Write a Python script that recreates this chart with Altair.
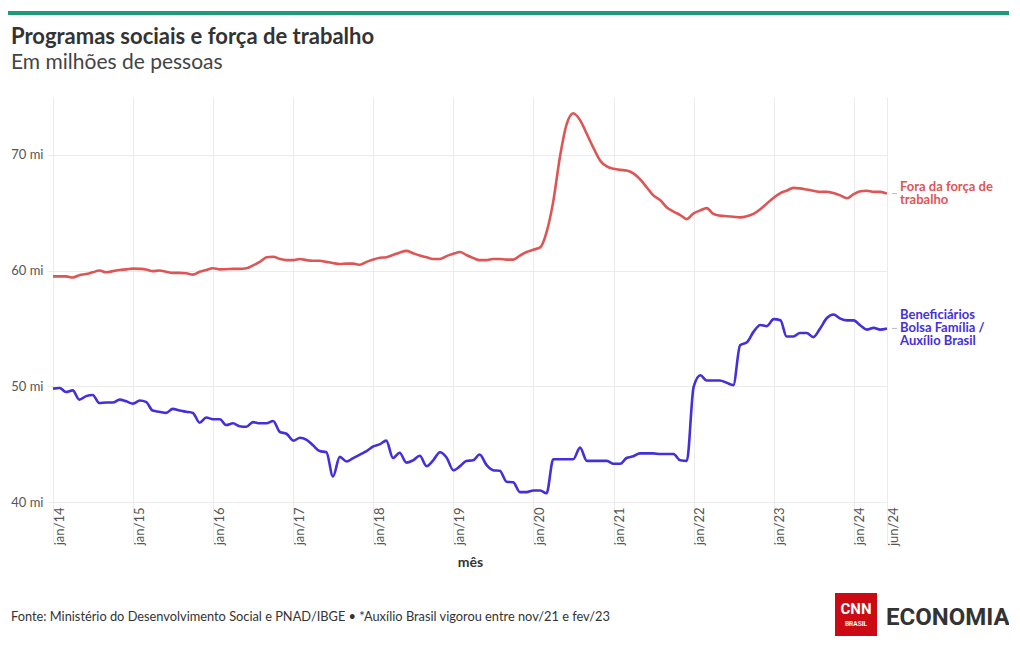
import altair as alt
import pandas as pd

# ---------------- data ----------------
months = pd.date_range("2014-01-01", "2024-06-01", freq="MS").strftime("%Y-%m-%d").tolist()

fora_forca = [
    59.5, 59.5, 59.5, 59.4, 59.6, 59.7, 59.85, 60.0, 59.85, 59.95, 60.05, 60.1,
    60.17, 60.15, 60.1, 59.95, 60.0, 59.9, 59.8, 59.8, 59.77, 59.65, 59.9, 60.05,
    60.2, 60.1, 60.12, 60.15, 60.15, 60.2, 60.45, 60.75, 61.15, 61.2, 61.0, 60.9,
    60.9, 61.0, 60.9, 60.85, 60.85, 60.75, 60.65, 60.57, 60.6, 60.6, 60.5, 60.75,
    60.95, 61.1, 61.15, 61.35, 61.55, 61.7, 61.5, 61.3, 61.15, 61.0, 61.0, 61.25,
    61.45, 61.6, 61.35, 61.1, 60.9, 60.9, 61.0, 61.0, 60.95, 60.95, 61.3, 61.6,
    61.8, 62.0, 63.3, 66.0, 69.8, 72.65, 73.6, 73.0, 71.8, 70.6, 69.5, 69.0,
    68.8, 68.7, 68.65, 68.4, 67.9, 67.2, 66.5, 66.1, 65.45, 65.1, 64.8, 64.45,
    64.95, 65.2, 65.4, 64.9, 64.75, 64.7, 64.65, 64.6, 64.7, 64.9, 65.3, 65.8,
    66.3, 66.7, 66.9, 67.15, 67.1, 67.0, 66.9, 66.8, 66.8, 66.7, 66.5, 66.25,
    66.6, 66.85, 66.9, 66.8, 66.8, 66.65,
]

beneficiarios = [
    49.8, 49.85, 49.5, 49.65, 48.85, 49.15, 49.25, 48.55, 48.6, 48.6, 48.85, 48.7,
    48.5, 48.77, 48.65, 47.9, 47.8, 47.7, 48.05, 47.9, 47.8, 47.7, 46.85, 47.3,
    47.15, 47.15, 46.65, 46.8, 46.55, 46.5, 46.9, 46.8, 46.8, 47.0, 46.05, 45.9,
    45.3, 45.55, 45.4, 44.9, 44.4, 44.3, 42.2, 43.9, 43.5, 43.8, 44.1, 44.4,
    44.8, 45.0, 45.3, 43.8, 44.25, 43.4, 43.6, 44.0, 43.1, 43.6, 44.3, 43.85,
    42.75, 43.1, 43.55, 43.6, 44.1, 43.2, 42.75, 42.7, 41.75, 41.7, 40.85, 40.85,
    41.0, 41.0, 40.75, 43.7, 43.7, 43.7, 43.7, 44.7, 43.55, 43.55, 43.55, 43.55,
    43.3, 43.3, 43.8, 43.95, 44.2, 44.2, 44.2, 44.15, 44.15, 44.15, 43.6, 43.55,
    49.95, 50.95, 50.5, 50.5, 50.5, 50.3, 50.1, 53.55, 53.8, 54.7, 55.3, 55.2,
    55.8, 55.7, 54.3, 54.3, 54.6, 54.6, 54.25, 55.0, 55.9, 56.2, 55.85, 55.7,
    55.7, 55.25, 54.9, 55.05, 54.9, 55.0,
]

series_names = ["Fora da força de trabalho", "Beneficiários Bolsa Família / Auxílio Brasil"]
series_labels = ["Fora da força de\ntrabalho", "Beneficiários\nBolsa Família /\nAuxílio Brasil"]
series_colors = ["#dd5656", "#4430d8"]

y_ticks = [40, 50, 60, 70]
tick_years = list(range(2014, 2025))
month_abbr = ["jan", "fev", "mar", "abr", "mai", "jun", "jul", "ago", "set", "out", "nov", "dez"]

title_text = "Programas sociais e força de trabalho"
subtitle_text = "Em milhões de pessoas"
footer_text = ("Fonte: Ministério do Desenvolvimento Social e PNAD/IBGE • "
               "*Auxílio Brasil vigorou entre nov/21 e fev/23")

# ---------------- tables ----------------
df = pd.concat([
    pd.DataFrame({"mes": months, "valor": fora_forca, "serie": series_names[0]}),
    pd.DataFrame({"mes": months, "valor": beneficiarios, "serie": series_names[1]}),
])
last = pd.DataFrame({
    "mes": [months[-1], months[-1]],
    "valor": [fora_forca[-1], beneficiarios[-1]],
    "serie": series_names,
    "rotulo": series_labels,
})

FONT = "Lato"
GRID = "#ebebeb"
LINE_H = 13

tick_values = [alt.DateTime(year=y, month=1, date=1, utc=True) for y in tick_years]
tick_values.append(alt.DateTime(year=2024, month=6, date=1, utc=True))
abbr_js = "[" + ",".join("'%s'" % m for m in month_abbr) + "]"
x_label_expr = abbr_js + "[utcmonth(datum.value)] + '/' + utcFormat(datum.value, '%y')"

x_enc = alt.X(
    "mes:T",
    title="mês",
    scale=alt.Scale(type="utc", nice=False,
                    domain=[alt.DateTime(year=2014, month=1, date=1, utc=True),
                            alt.DateTime(year=2024, month=6, date=1, utc=True)]),
    axis=alt.Axis(values=tick_values, labelExpr=x_label_expr, labelAngle=270,
                  labelAlign="right", labelBaseline="top", labelPadding=-36,
                  tickSize=41, tickColor=GRID, domain=False, gridColor=GRID,
                  labelFont=FONT, labelFontSize=13, labelColor="#555",
                  titleFont=FONT, titleFontSize=14, titleFontWeight="bold",
                  titleColor="#333", titlePadding=10, labelFlush=False),
)
y_enc = alt.Y(
    "valor:Q",
    title=None,
    scale=alt.Scale(domain=[40, 75], nice=False, zero=False),
    axis=alt.Axis(values=y_ticks, labelExpr="datum.value + ' mi'", tickSize=6,
                  tickColor=GRID, domain=False, gridColor=GRID, labelFont=FONT,
                  labelFontSize=13, labelColor="#555", labelPadding=4),
)
color_enc = alt.Color("serie:N", scale=alt.Scale(domain=series_names, range=series_colors),
                      legend=None)

lines = alt.Chart(df).mark_line(interpolate="monotone", strokeWidth=2.6).encode(
    x=x_enc, y=y_enc, color=color_enc)

dashes = alt.Chart(last).mark_rule(xOffset=5, x2Offset=10, strokeWidth=1, color="#bbbbbb").encode(
    x="mes:T", x2="mes:T", y="valor:Q")

label_layers = []
for name, lbl in zip(series_names, series_labels):
    n_lines = lbl.count("\n") + 1
    label_layers.append(
        alt.Chart(last).transform_filter(alt.datum.serie == name).mark_text(
            align="left", baseline="middle", dx=13, dy=-(n_lines - 1) * LINE_H / 2,
            font=FONT, fontSize=13, fontWeight="bold", lineBreak="\n",
            lineHeight=LINE_H).encode(
            x="mes:T", y="valor:Q", text="rotulo:N", color=color_enc)
    )

# ---------------- decorations ----------------
one = pd.DataFrame({"k": [0]})
top_bar = alt.Chart(one).mark_rect(color="#1f9a76").encode(
    x=alt.value(-45), x2=alt.value(956), y=alt.value(-86), y2=alt.value(-82))

title = alt.Chart(pd.DataFrame({"t": [title_text]})).mark_text(
    align="left", baseline="alphabetic", font=FONT, fontSize=22, fontWeight="bold",
    color="#333").encode(x=alt.value(-42), y=alt.value(-53), text="t:N")
subtitle = alt.Chart(pd.DataFrame({"t": [subtitle_text]})).mark_text(
    align="left", baseline="alphabetic", font=FONT, fontSize=21, color="#444").encode(
    x=alt.value(-42), y=alt.value(-28), text="t:N")
footer = alt.Chart(pd.DataFrame({"t": [footer_text]})).mark_text(
    align="left", baseline="alphabetic", font=FONT, fontSize=12.8, color="#333").encode(
    x=alt.value(-42), y=alt.value(524), text="t:N")

logo_box = alt.Chart(one).mark_rect(color="#cc0a14").encode(
    x=alt.value(782), x2=alt.value(824), y=alt.value(496), y2=alt.value(539))
logo_cnn = alt.Chart(pd.DataFrame({"t": ["CNN"]})).mark_text(
    align="center", baseline="middle", font="Roboto", fontSize=15,
    fontWeight="bold", color="white").encode(x=alt.value(803), y=alt.value(512), text="t:N")
logo_brasil = alt.Chart(pd.DataFrame({"t": ["BRASIL"]})).mark_text(
    align="center", baseline="middle", font="Roboto", fontSize=6.5,
    fontWeight="bold", color="white").encode(x=alt.value(803), y=alt.value(527), text="t:N")
logo_econ = alt.Chart(pd.DataFrame({"t": ["ECONOMIA"]})).mark_text(
    align="left", baseline="alphabetic", font="Roboto", fontSize=24,
    fontWeight="bold", color="#333").encode(x=alt.value(833), y=alt.value(528), text="t:N")

chart = alt.layer(
    top_bar, lines, dashes, *label_layers, title, subtitle, footer,
    logo_box, logo_cnn, logo_brasil, logo_econ,
).properties(
    width=834, height=405,
    background="white",
    padding={"left": 45, "top": 89, "right": 122, "bottom": 136},
    autosize=alt.AutoSizeParams(type="none"),
).configure_view(strokeOpacity=0, strokeWidth=0)

chart.save("out.html", embed_options={"renderer": "svg", "actions": False})
